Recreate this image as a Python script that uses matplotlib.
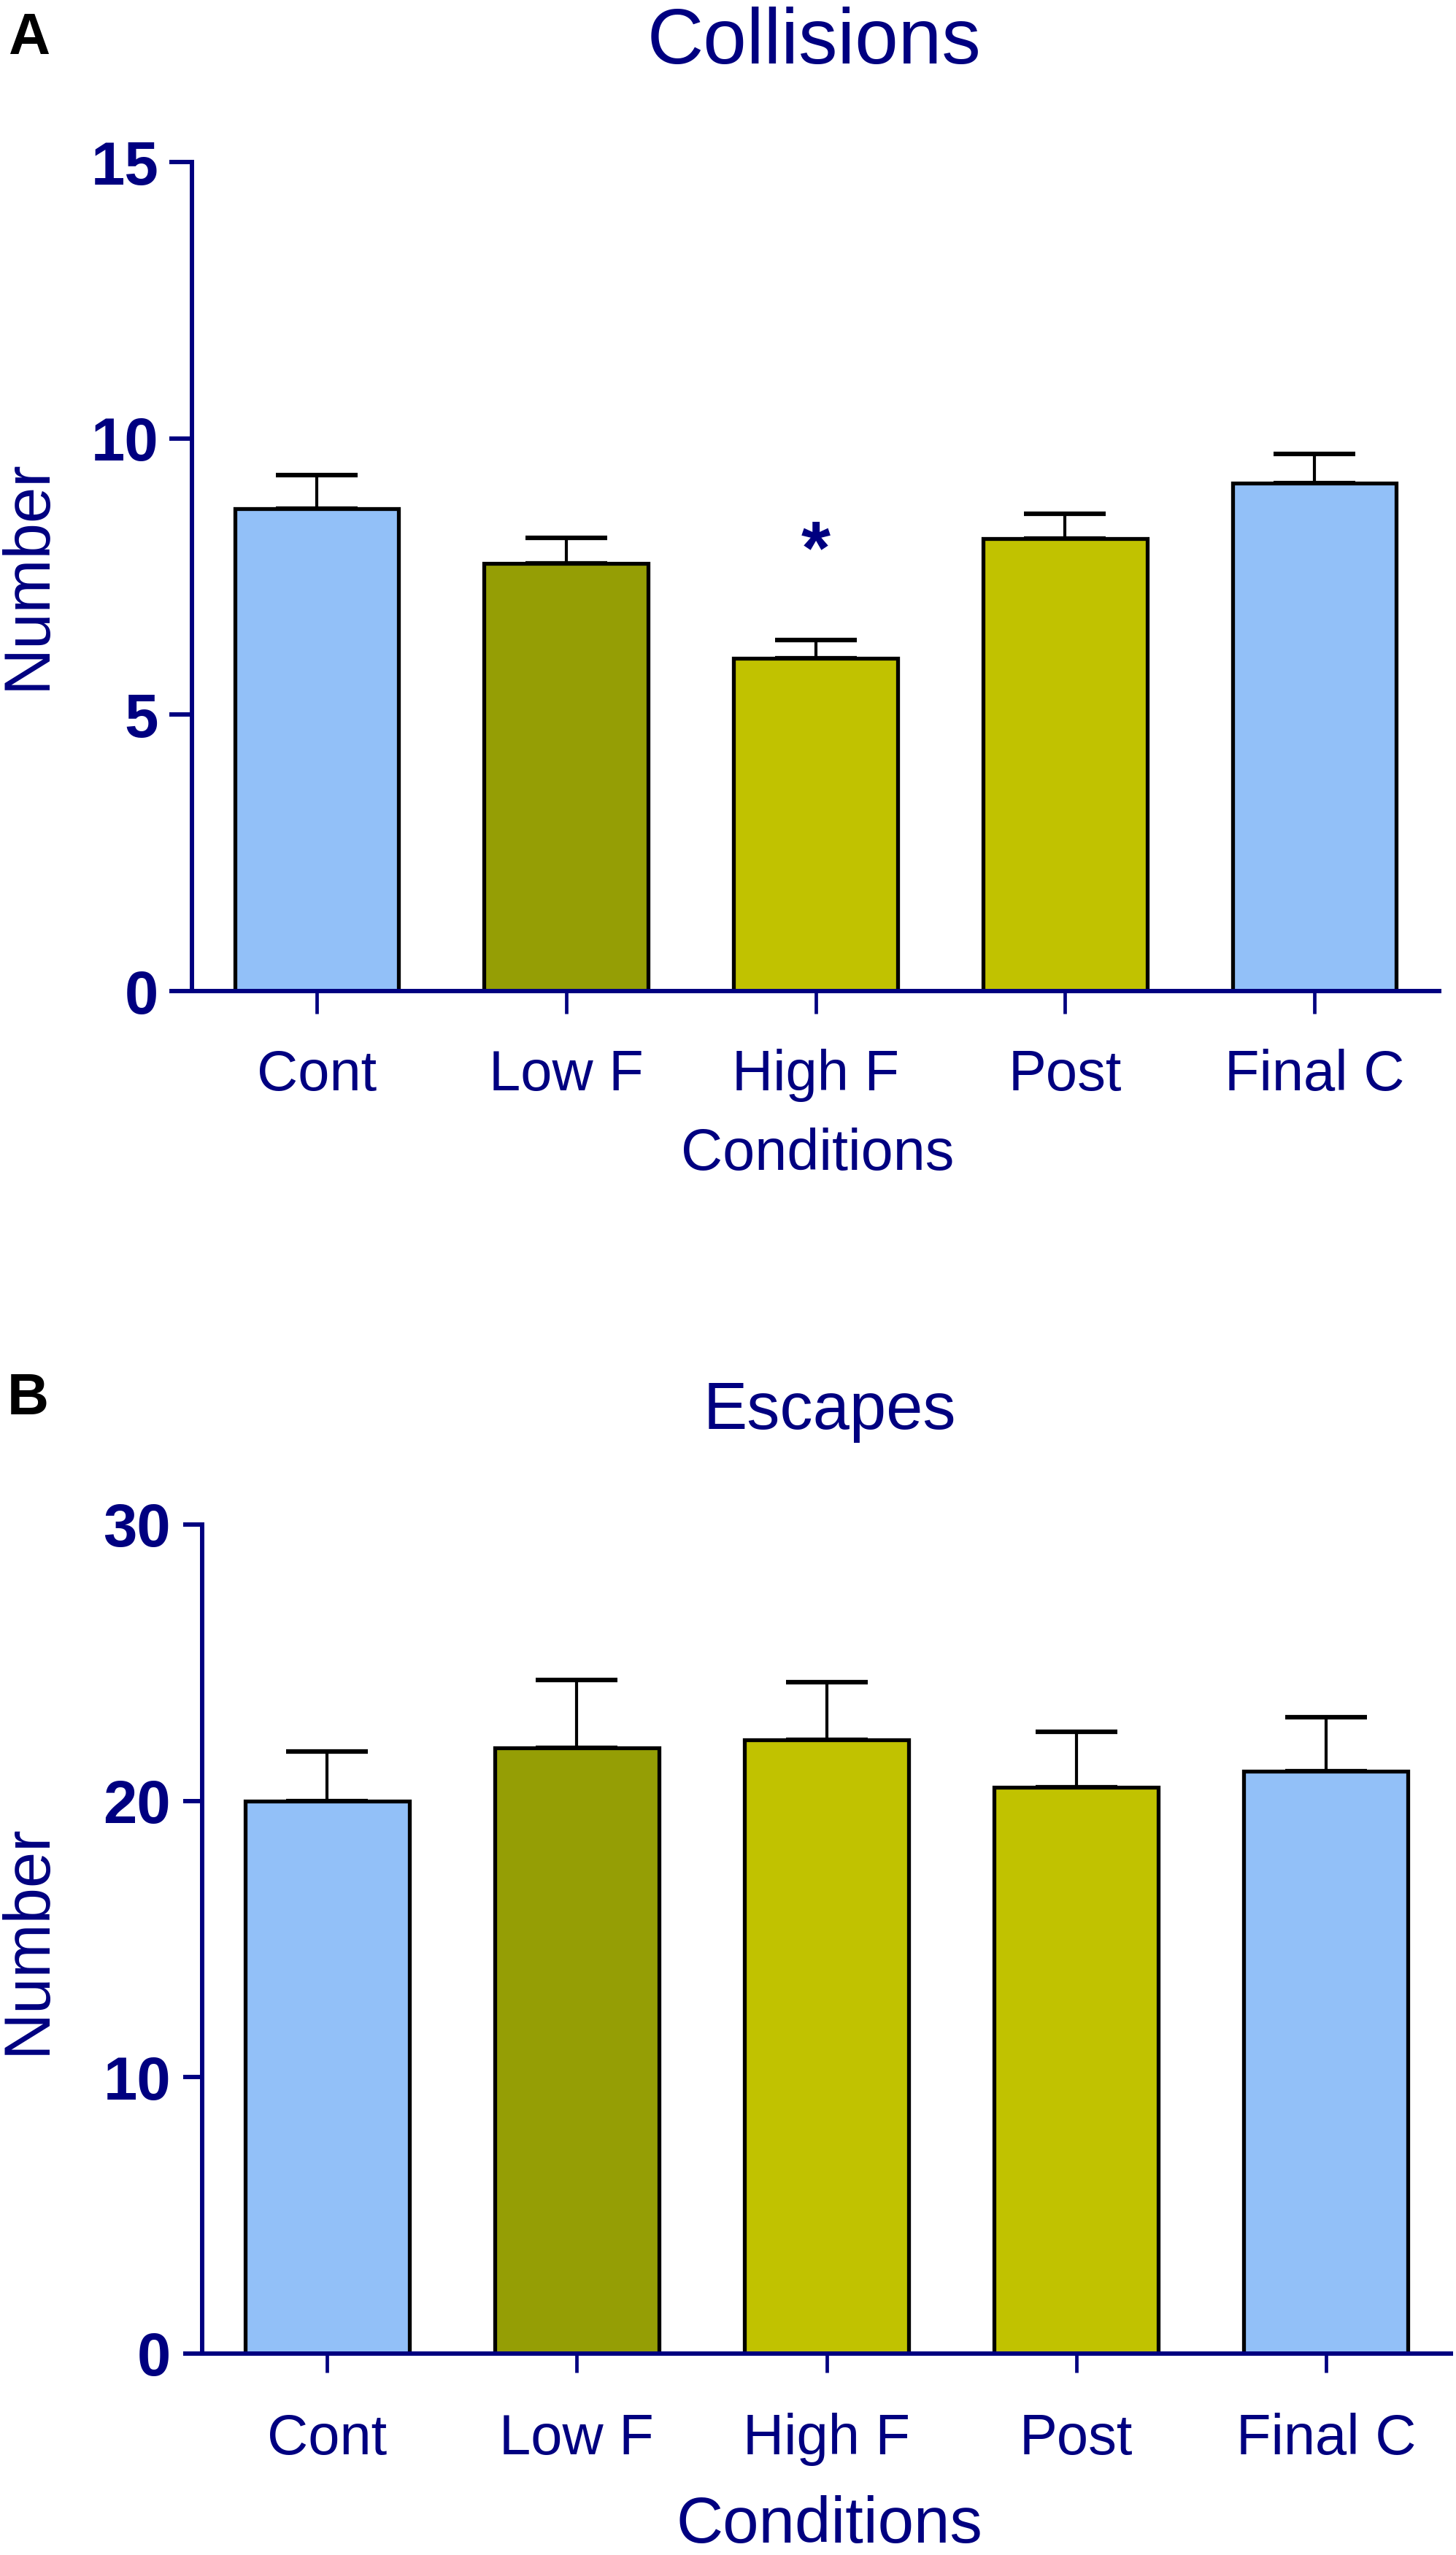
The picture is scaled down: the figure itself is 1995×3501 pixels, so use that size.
import matplotlib
matplotlib.use('Agg')
import matplotlib.pyplot as plt
import numpy as np

plt.rcParams['font.family'] = ['Liberation Sans', 'DejaVu Sans']

# ---- data ----
categories = ['Cont', 'Low F', 'High F', 'Post', 'Final C']
collisions_mean = [8.73, 7.74, 6.02, 8.19, 9.19]
collisions_sem = [0.60, 0.46, 0.33, 0.45, 0.53]
escapes_mean = [20.0, 21.93, 22.2, 20.5, 21.07]
escapes_sem = [1.80, 2.45, 2.10, 2.00, 1.95]
bar_colors = ['#92C0F8', '#959E05', '#C1C200', '#C1C200', '#92C0F8']
yticks_a = [0, 5, 10, 15]
yticks_b = [0, 10, 20, 30]
significance_a = ['', '', '*', '', '']
star_level_a = 7.55

NAVY = '#000080'
W, H = 1995, 3501
fig = plt.figure(figsize=(W / 100, H / 100), dpi=100)


def rect(x0, y0, x1, y1):
    return [x0 / W, 1 - y1 / H, (x1 - x0) / W, (y1 - y0) / H]


def to_axes(box, px, py):
    x0, y0, x1, y1 = box
    return (px - x0) / (x1 - x0), (y1 - py) / (y1 - y0)


def panel(box, means, sems, yticks, title, title_fs, title_px, xlab_fs, xlab_px,
          ylab_px, tick_len_y, ypad, tick_len_x, xpad, letter, letter_px, stars=None, star_level=None):
    ax = fig.add_axes(rect(*box))
    x = np.arange(len(categories))
    ax.errorbar(x, means, yerr=[np.zeros(len(means)), sems], fmt='none', ecolor='black',
                elinewidth=3.0, capsize=40, capthick=4.5, zorder=1)
    ax.bar(x, means, width=0.657, color=bar_colors, edgecolor='black', linewidth=3.8, zorder=2)
    ax.set_xlim(-0.5, len(categories) - 0.5)
    ax.set_ylim(yticks[0], yticks[-1])
    ax.set_yticks(yticks, labels=[str(t) for t in yticks], fontweight='bold')
    ax.set_xticks(x, categories)
    for s in ['top', 'right']:
        ax.spines[s].set_visible(False)
    for s in ['left', 'bottom']:
        ax.spines[s].set_color(NAVY)
        ax.spines[s].set_linewidth(4.3)
    ax.tick_params(axis='y', length=tick_len_y, width=4.3, color=NAVY, pad=ypad,
                   labelsize=60, labelcolor=NAVY)
    ax.tick_params(axis='x', length=tick_len_x, width=3.4, color=NAVY, pad=xpad,
                   labelsize=56, labelcolor=NAVY)
    # title
    tx, ty = to_axes(box, *title_px)
    ax.set_title(title, fontsize=title_fs, color=NAVY, x=tx, y=ty, va='baseline', pad=0)
    # xlabel
    ax.set_xlabel('Conditions', fontsize=xlab_fs, color=NAVY)
    lx, ly = to_axes(box, *xlab_px)
    ax.xaxis.set_label_coords(lx, ly)
    ax.xaxis.label.set_va('baseline')
    # ylabel
    ax.set_ylabel('Number', fontsize=64, color=NAVY)
    yx, yy = to_axes(box, *ylab_px)
    ax.yaxis.set_label_coords(yx, yy)
    ax.yaxis.label.set_va('center')
    # significance
    if stars is not None:
        for xi, s in zip(x, stars):
            if s:
                ax.text(xi, star_level, s, ha='center', va='baseline', fontsize=74,
                        fontweight='bold', color=NAVY)
    fig.text(letter_px[0] / W, 1 - letter_px[1] / H, letter, fontsize=57, fontweight='bold',
             color='black', ha='left', va='baseline')
    return ax


panel((263, 222, 1972, 1358), collisions_mean, collisions_sem, yticks_a,
      'Collisions', 77, (1116, 87), 57, (1120, 1603), (39, 787),
      22, 11, 22, 35, 'A', (11, 74), stars=significance_a, star_level=star_level_a)

panel((277, 2089, 1988, 3225), escapes_mean, escapes_sem, yticks_b,
      'Escapes', 65, (1137, 1958), 64, (1136, 3484), (39, 2657),
      19, 12, 19, 39, 'B', (10, 1938))

fig.savefig('out.png', dpi=100)
